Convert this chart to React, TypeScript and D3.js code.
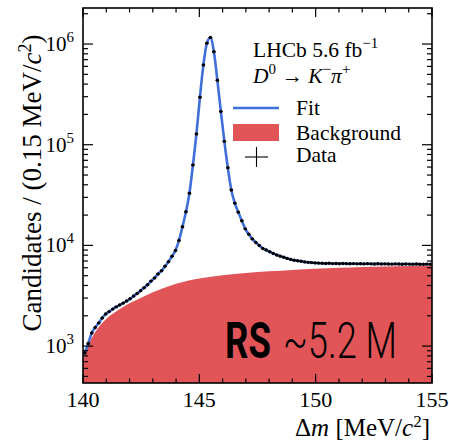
import * as d3 from "d3";

// Δm bins: 100 bins of 0.15 MeV between 140 and 155
const binLow = 140;
const binWidth = 0.15;
const counts = [
  855, 1060, 1350, 1530, 1700, 1900, 2080, 2200, 2330, 2450,
  2560, 2670, 2800, 2950, 3140, 3330, 3550, 3800, 4070, 4420,
  4750, 5200, 5600, 6200, 6900, 7800, 8900, 11200, 15300, 21600,
  33000, 63000, 128000, 296000, 620000, 1020000, 1160000, 840000, 437000, 214000,
  108000, 59000, 35500, 26300, 21400, 17600, 14600, 12900, 11600, 10700,
  10000, 9330, 9000, 8650, 8320, 8030, 7820, 7620, 7430, 7260,
  7130, 7050, 6950, 6860, 6790, 6750, 6700, 6670, 6640, 6620,
  6650, 6600, 6610, 6580, 6620, 6590, 6570, 6600, 6560, 6580,
  6550, 6590, 6560, 6540, 6570, 6530, 6560, 6540, 6520, 6550,
  6530, 6510, 6540, 6520, 6500, 6530, 6510, 6490, 6520, 6500,
];

// background component (read at a few Δm values)
const bgMass = [140.0, 140.1, 140.25, 140.5, 140.75, 141, 141.5, 142, 142.5, 143, 143.5, 144, 144.5, 145, 146, 147, 148, 149, 150, 151, 152, 153, 154, 155];
const bgValue = [741, 851, 1047, 1349, 1622, 1862, 2265, 2661, 3020, 3428, 3802, 4169, 4467, 4699, 5047, 5321, 5534, 5715, 5861, 5984, 6095, 6180, 6252, 6310];

const xMajor = [140, 145, 150, 155];
const xMinor = [141, 142, 143, 144, 146, 147, 148, 149, 151, 152, 153, 154];
const yMajorExp = [3, 4, 5, 6];

const W = 449;
const H = 441;
const left = 83;
const right = 432;
const top = 8;
const bottom = 383;

const red = "#e15559";
const blue = "#3f6fd8";
const serif = '"Liberation Serif", "DejaVu Serif", serif';

export default function App() {
  const x = d3.scaleLinear().domain([140, 155]).range([left, right]);
  const y = d3.scaleLog().domain([430, 2.28e6]).range([bottom, top]);

  const points = counts.map((c, i) => ({
    m: binLow + binWidth * (i + 0.5),
    c,
  }));

  const fitPath = d3
    .line<{ m: number; c: number }>()
    .x((d) => x(d.m))
    .y((d) => y(d.c))
    .curve(d3.curveMonotoneX)(points);

  const bgArea = d3
    .area<number>()
    .x((_, i) => x(bgMass[i]))
    .y0(bottom)
    .y1((v) => y(v))
    .curve(d3.curveMonotoneX)(bgValue);

  const yMinor: number[] = [];
  [2, 3, 4, 5, 6].forEach((k) => {
    for (let m = 2; m <= 9; m++) {
      const v = m * Math.pow(10, k);
      if (v >= 430 && v <= 2.28e6) yMinor.push(v);
    }
  });

  return (
    <svg
      width={W}
      height={H}
      style={{ position: "absolute", left: 0, top: 0, background: "#fff", fontFamily: serif }}
    >
      <defs>
        <clipPath id="plot">
          <rect x={left} y={top} width={right - left} height={bottom - top} />
        </clipPath>
      </defs>

      <g clipPath="url(#plot)">
        <path d={bgArea || ""} fill={red} />
        <path d={fitPath || ""} fill="none" stroke={blue} strokeWidth={2.6} />
        {points.map((d, i) => {
          const err = Math.sqrt(d.c);
          return (
            <g key={i}>
              <line
                x1={x(d.m - binWidth / 2)}
                x2={x(d.m + binWidth / 2)}
                y1={y(d.c)}
                y2={y(d.c)}
                stroke="#000"
                strokeWidth={1.1}
              />
              <line
                x1={x(d.m)}
                x2={x(d.m)}
                y1={y(d.c + err)}
                y2={y(d.c - err)}
                stroke="#000"
                strokeWidth={1.1}
              />
              <circle cx={x(d.m)} cy={y(d.c)} r={1.7} fill="#000" />
            </g>
          );
        })}
      </g>

      {/* ticks on all four sides, pointing inward */}
      <g stroke="#000" strokeWidth={1.2}>
        {xMajor.map((t) => (
          <g key={"xM" + t}>
            <line x1={x(t)} x2={x(t)} y1={bottom} y2={bottom - 9} />
            <line x1={x(t)} x2={x(t)} y1={top} y2={top + 9} />
          </g>
        ))}
        {xMinor.map((t) => (
          <g key={"xm" + t}>
            <line x1={x(t)} x2={x(t)} y1={bottom} y2={bottom - 4.5} />
            <line x1={x(t)} x2={x(t)} y1={top} y2={top + 4.5} />
          </g>
        ))}
        {yMajorExp.map((e) => (
          <g key={"yM" + e}>
            <line x1={left} x2={left + 10} y1={y(Math.pow(10, e))} y2={y(Math.pow(10, e))} />
            <line x1={right} x2={right - 10} y1={y(Math.pow(10, e))} y2={y(Math.pow(10, e))} />
          </g>
        ))}
        {yMinor.map((v) => (
          <g key={"ym" + v}>
            <line x1={left} x2={left + 5} y1={y(v)} y2={y(v)} />
            <line x1={right} x2={right - 5} y1={y(v)} y2={y(v)} />
          </g>
        ))}
      </g>

      <rect
        x={left}
        y={top}
        width={right - left}
        height={bottom - top}
        fill="none"
        stroke="#000"
        strokeWidth={1.6}
      />

      {/* tick labels */}
      {xMajor.map((t) => (
        <text key={"xl" + t} x={x(t)} y={407} fontSize={22} textAnchor="middle">
          {t}
        </text>
      ))}
      {yMajorExp.map((e) => (
        <text key={"yl" + e} x={74} y={y(Math.pow(10, e)) + 7} fontSize={21} textAnchor="end">
          10
          <tspan dy={-9} fontSize={15}>
            {e}
          </tspan>
        </text>
      ))}

      {/* axis titles */}
      <text x={430} y={436} fontSize={25} textAnchor="end">
        Δ<tspan fontStyle="italic">m</tspan> [MeV/<tspan fontStyle="italic">c</tspan>
        <tspan dy={-9} fontSize={17}>2</tspan>
        <tspan dy={9}>]</tspan>
      </text>
      <text transform="translate(41,183) rotate(-90)" fontSize={27} textAnchor="middle">
        Candidates / (0.15 MeV/<tspan fontStyle="italic">c</tspan>
        <tspan dy={-10} fontSize={18}>2</tspan>
        <tspan dy={10}>)</tspan>
      </text>

      {/* annotations */}
      <text x={253} y={57} fontSize={21.5}>
        LHCb 5.6 fb<tspan dy={-9} fontSize={15}>−1</tspan>
      </text>
      <text x={253} y={83} fontSize={21.5}>
        <tspan fontStyle="italic">D</tspan>
        <tspan dy={-9} fontSize={15}>0</tspan>
        <tspan dy={9}> → </tspan>
        <tspan fontStyle="italic">K</tspan>
        <tspan dy={-9} fontSize={15}>−</tspan>
        <tspan dy={9} fontStyle="italic">π</tspan>
        <tspan dy={-9} fontSize={15}>+</tspan>
      </text>

      {/* legend */}
      <line x1={233} x2={279} y1={108} y2={108} stroke={blue} strokeWidth={2.6} />
      <rect x={233} y={124} width={46} height={17} fill={red} />
      <line x1={245} x2={268} y1={157} y2={157} stroke="#000" strokeWidth={1.1} />
      <line x1={256.5} x2={256.5} y1={147} y2={167} stroke="#000" strokeWidth={1.1} />
      <text x={296} y={115} fontSize={21.5}>Fit</text>
      <text x={296} y={140} fontSize={21.5}>Background</text>
      <text x={296} y={162} fontSize={21.5}>Data</text>

      {/* yield label */}
      <text
        x={225}
        y={358}
        fontFamily="Roboto, sans-serif"
        fontWeight="bold"
        fontSize={50}
        textLength={46}
        lengthAdjust="spacingAndGlyphs"
      >
        RS
      </text>
      <text
        x={283}
        y={358}
        fontFamily="Roboto, sans-serif"
        fontWeight={300}
        fontSize={50}
        textLength={114}
        lengthAdjust="spacingAndGlyphs"
      >
        ~5.2 M
      </text>
    </svg>
  );
}
